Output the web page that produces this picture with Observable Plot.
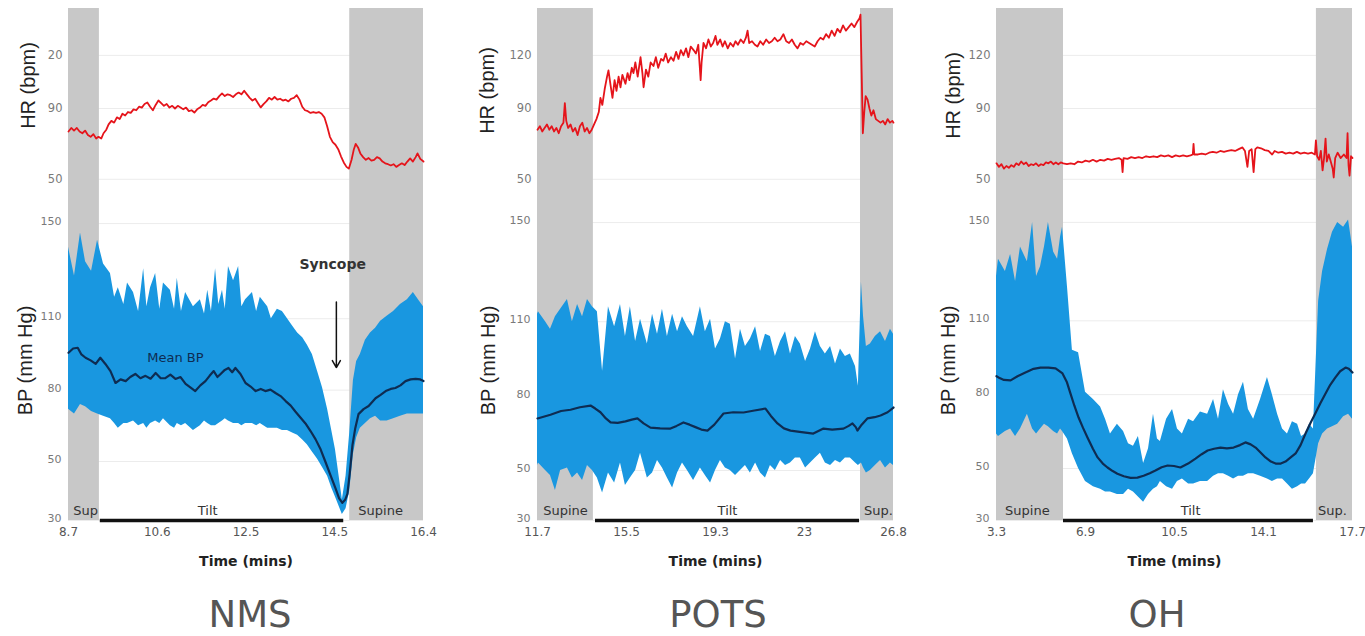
<!DOCTYPE html>
<html>
<head>
<meta charset="utf-8">
<script src="https://cdn.jsdelivr.net/npm/d3@7"></script>
<script src="https://cdn.jsdelivr.net/npm/@observablehq/plot@0.6"></script>
<style>
  html, body { margin: 0; padding: 0; background: #fff; }
  body { width: 1365px; height: 636px; overflow: hidden; position: relative; font-family: "DejaVu Sans", sans-serif; }
  .panel { position: absolute; top: 0; }
  .panel svg { display: block; overflow: visible; }
  .title { position: absolute; top: 596px; font-size: 37px; line-height: 1; color: #555; transform: translateX(-50%); white-space: nowrap; }
</style>
</head>
<body>
<div id="p0" class="panel" style="left:0px"></div>
<div id="p1" class="panel" style="left:469px"></div>
<div id="p2" class="panel" style="left:928px"></div>
<div class="title" style="left:250px">NMS</div>
<div class="title" style="left:718px">POTS</div>
<div class="title" style="left:1157px">OH</div>
<script>
// ---------- shared ticks ----------
const hrTicks = [120, 90, 50];
const nmsHrTickLabels = ["20", "90", "50"];
const hrTickLabels = ["120", "90", "50"];
const bpTicks = [30, 50, 80, 110, 150];

// ---------- NMS ----------
const nmsXTicks = [8.7, 10.625, 12.55, 14.475, 16.4];
const nmsXLabels = ["8.7", "10.6", "12.5", "14.5", "16.4"];
const nmsSupine = [[8.7, 9.37], [14.8, 16.4]];
const nmsTilt = [9.39, 14.67];
const nmsPhases = [["Sup", 9.07], ["Tilt", 11.72], ["Supine", 15.47]];
const nmsHR = [[8.70,77],[8.76,79],[8.82,77.5],[8.88,79],[8.94,77],[9.00,76],[9.06,77.5],[9.12,75],[9.18,74],[9.24,75.5],
[9.30,73],[9.35,74],[9.41,73],[9.46,76],[9.52,78],[9.57,81],[9.63,83],[9.69,82],[9.75,85],[9.81,84],
[9.87,87],[9.93,86],[9.99,88],[10.05,87.5],[10.11,89.5],[10.17,89],[10.23,91],[10.29,90.5],[10.35,92.5],[10.41,93.4],
[10.47,91],[10.53,89],[10.59,92],[10.65,94.5],[10.71,93],[10.77,91.5],[10.83,92.5],[10.89,90.5],[10.95,91.5],[11.01,90],
[11.07,91.5],[11.13,90.6],[11.19,89.5],[11.25,90.5],[11.31,88.5],[11.37,89],[11.43,87.7],[11.49,89.5],[11.55,90.5],[11.61,92],
[11.67,91.5],[11.73,93.5],[11.79,94.5],[11.85,95.6],[11.91,95],[11.97,97],[12.03,98.5],[12.09,97],[12.15,98],[12.21,97.5],
[12.27,96.5],[12.33,98],[12.39,99],[12.45,98],[12.51,100],[12.57,98],[12.63,96],[12.69,94.5],[12.75,95.5],[12.81,93],
[12.87,90.6],[12.93,92.5],[12.99,94],[13.05,96],[13.11,95],[13.17,96.5],[13.23,95],[13.29,95.5],[13.35,94.5],[13.41,95],
[13.47,94],[13.53,95.5],[13.59,96],[13.65,97.5],[13.71,95],[13.77,91],[13.83,89],[13.89,88.5],[13.95,87.5],[14.01,88],
[14.07,87.5],[14.13,88],[14.19,87],[14.25,85],[14.31,80],[14.37,74],[14.43,71],[14.49,69.5],[14.55,67],[14.61,63],
[14.67,59.5],[14.73,57],[14.78,56],[14.84,61],[14.89,67],[14.93,70],[14.98,68],[15.03,64.6],[15.09,62.5],[15.15,61],
[15.21,62],[15.27,60.5],[15.33,61],[15.39,62.5],[15.45,61.8],[15.51,60],[15.57,59],[15.63,58.5],[15.69,57.8],[15.75,58.5],
[15.81,57],[15.87,58],[15.93,59],[15.99,58],[16.05,60],[16.11,61.8],[16.17,60],[16.23,62.5],[16.27,64.6],[16.33,61.5],[16.40,60]];
// [time, systolic envelope, diastolic envelope]
const nmsBP = [[8.70,140,72],[8.83,128,70],[8.96,146,74],[9.07,134,73],[9.20,130,71],[9.33,143,70],[9.46,133,69],[9.61,129,68],
[9.70,119,66],[9.78,123,64],[9.90,116,66],[9.98,125,66],[10.11,121,67],[10.22,113,65],[10.33,131,66],[10.40,115,64],
[10.48,123,66],[10.59,129,67],[10.68,114,66],[10.76,125,68],[10.91,122,65],[11.00,114,64],[11.06,127,66],[11.15,113,65],
[11.24,121,66],[11.41,115,63],[11.56,118,65],[11.65,112,67],[11.72,122,66],[11.80,113,65],[11.89,131,65],[11.96,116,66],
[12.04,122,67],[12.10,114,68],[12.17,132,67],[12.28,126,66],[12.39,132,66],[12.46,115,65],[12.54,118,66],[12.69,121,66],
[12.78,113,65],[12.86,119,66],[13.02,115,64],[13.10,110,64],[13.23,114,64],[13.34,113,63],[13.45,110,63],[13.56,107,62],
[13.67,104,61],[13.78,102,59],[13.88,99,57],[13.99,95,54],[14.10,88,51],[14.21,81,48],[14.32,72,45],[14.41,63,41],
[14.49,55,38],[14.64,37,32],[14.72,45,34],[14.80,62,40],[14.88,84,53],[14.95,92,60],[15.03,95,64],[15.14,101,66],
[15.25,104,68],[15.36,106,69],[15.47,109,67],[15.61,111,67],[15.75,113,68],[15.90,116,69],[16.05,118,70],[16.18,121,70],
[16.29,118,70],[16.40,115,70]];
const nmsMean = [[8.70,95.7],[8.80,97.5],[8.90,97.8],[8.98,95],[9.07,93.6],[9.18,92.5],[9.29,91],[9.39,93.6],[9.50,91],[9.61,88],
[9.72,83],[9.83,84.5],[9.94,83.8],[10.04,85.5],[10.15,86.8],[10.26,85],[10.37,86],[10.48,84.8],[10.59,87.2],[10.70,85],
[10.80,85],[10.91,86.5],[11.02,84.7],[11.13,85.5],[11.24,82.6],[11.35,81],[11.45,79.6],[11.56,82],[11.67,83.8],[11.76,86],
[11.85,88],[11.93,85.5],[12.00,86.8],[12.09,88.5],[12.17,89.3],[12.25,87.5],[12.32,89.3],[12.43,86.8],[12.54,83],[12.65,81.5],
[12.76,79.6],[12.87,80.5],[12.97,79.6],[13.08,80.2],[13.19,78.8],[13.30,77.5],[13.41,75.4],[13.52,73.5],[13.62,71],[13.73,68.5],
[13.84,66],[13.95,62.8],[14.06,59.3],[14.17,55],[14.27,50],[14.38,45.5],[14.49,41],[14.57,37.5],[14.64,36],[14.70,37],
[14.75,39],[14.80,46],[14.86,57],[14.92,64],[14.99,69.9],[15.10,72],[15.21,73.3],[15.36,76.6],[15.47,78],[15.58,79.6],
[15.69,80.5],[15.79,80.9],[15.90,82],[16.01,83.8],[16.12,84.5],[16.23,84.7],[16.33,84.5],[16.40,83.8]];
const nmsSyncopeLabel = [["Syncope", 14.43, 133]];
const nmsSyncopeArrow = [[14.51, 117, 89.5]];
const nmsMeanLabel = [["Mean BP", 11.02, 93.7]];

// ---------- POTS ----------
const potsXTicks = [11.7, 15.475, 19.25, 23.025, 26.8];
const potsXLabels = ["11.7", "15.5", "19.3", "23", "26.8"];
const potsSupine = [[11.7, 14.07], [25.4, 26.8]];
const potsTilt = [14.16, 25.36];
const potsPhases = [["Supine", 12.89], ["Tilt", 19.76], ["Sup.", 26.16]];
const potsHR = [[11.70,78],[11.80,80],[11.90,77],[12.00,79],[12.10,81],[12.20,78],[12.30,80],[12.40,77],[12.50,79],[12.60,76],
[12.70,80],[12.80,82],[12.86,93],[12.92,83],[13.00,79],[13.10,81],[13.20,77],[13.30,79],[13.40,75],[13.50,80],
[13.60,82],[13.70,77],[13.80,79],[13.90,76],[14.00,78],[14.10,81],[14.20,84],[14.30,88],[14.37,96],[14.45,92],
[14.55,101],[14.65,108],[14.71,111.5],[14.80,103],[14.88,96],[14.97,106],[15.05,100],[15.14,108],[15.22,102],[15.30,109],
[15.43,104],[15.52,110],[15.60,106],[15.70,113],[15.77,110],[15.85,116],[15.95,108],[16.07,119],[16.15,110],[16.20,102],
[16.30,112],[16.40,108],[16.50,116],[16.62,114],[16.72,119],[16.82,113],[16.94,118],[17.04,117],[17.14,121],[17.24,116],
[17.36,119],[17.47,117],[17.58,122],[17.68,118],[17.78,123],[17.89,120],[18.00,124],[18.10,119],[18.20,125],[18.32,123],
[18.42,121],[18.52,126],[18.58,114],[18.62,106],[18.66,116],[18.74,127],[18.85,124],[18.95,129],[19.05,125],[19.15,127],
[19.25,131],[19.33,126],[19.45,129],[19.55,125],[19.65,128],[19.77,124],[19.88,127],[20.00,125],[20.10,128],[20.20,126],
[20.32,129],[20.44,127],[20.54,130],[20.61,134],[20.68,127],[20.80,128],[20.92,126],[21.03,125],[21.15,128],[21.27,126],
[21.40,129],[21.52,127],[21.64,128],[21.76,130],[21.88,128],[22.00,129],[22.13,132],[22.25,128],[22.37,127],[22.49,129],
[22.61,126],[22.73,124],[22.85,127],[22.97,126],[23.10,128],[23.22,127],[23.34,126],[23.46,125],[23.58,128],[23.70,130],
[23.82,129],[23.94,132],[24.06,130],[24.18,134],[24.30,131],[24.42,135],[24.54,133],[24.66,137],[24.78,134],[24.90,136],
[25.02,138],[25.14,136],[25.26,139],[25.36,141],[25.40,143],[25.45,110],[25.50,76],[25.56,88],[25.62,97],[25.70,95],
[25.78,90],[25.86,86],[25.95,89],[26.05,84],[26.15,83],[26.25,82],[26.35,83],[26.45,81],[26.55,84],[26.65,82],[26.75,83],[26.80,82]];
const potsBP = [[11.70,113,52],[11.74,114,53],[12.04,110,50],[12.25,107,48],[12.46,112,42],[12.68,115,50],[12.97,119,51],[13.18,110,47],
[13.40,117,49],[13.61,112,46],[13.82,119,52],[14.03,116,50],[14.24,114,47],[14.46,90,41],[14.71,116,49],[14.97,108,45],
[15.22,117,53],[15.43,104,44],[15.64,116,47],[15.86,102,50],[16.07,111,57],[16.36,101,47],[16.58,113,49],[16.79,105,54],
[17.00,115,51],[17.21,104,47],[17.43,113,43],[17.64,106,49],[17.85,112,53],[18.06,108,50],[18.32,104,46],[18.61,116,51],
[18.82,106,48],[19.04,111,45],[19.25,99,50],[19.46,103,54],[19.67,110,51],[19.88,109,50],[20.10,95,48],[20.31,107,50],
[20.52,100,52],[20.73,103,49],[20.95,108,53],[21.16,98,49],[21.37,105,47],[21.58,104,52],[21.79,96,50],[22.01,102,54],
[22.22,106,52],[22.43,97,53],[22.64,104,55],[22.85,101,55],[23.07,94,51],[23.28,99,53],[23.49,106,55],[23.70,100,57],
[23.91,97,53],[24.13,100,52],[24.34,93,54],[24.55,99,53],[24.76,96,55],[24.97,97,55],[25.19,92,53],[25.31,84,52],
[25.44,126,53],[25.53,112,51],[25.65,100,49],[25.82,101,50],[26.03,104,52],[26.25,106,54],[26.46,102,51],[26.67,107,53],[26.80,105,52]];
const potsMean = [[11.70,71],[12.25,72.5],[12.70,74],[13.10,74.5],[13.50,75.5],[13.95,76.2],[14.15,75],[14.37,73.5],[14.60,71],[14.80,69.4],
[15.10,69.2],[15.43,69.8],[15.70,70.5],[15.94,71],[16.20,69],[16.49,67.3],[16.90,67],[17.34,66.9],[17.60,68],[17.89,69.4],
[18.15,68.5],[18.40,67.5],[18.65,66.5],[18.91,66.1],[19.20,68.5],[19.59,73],[20.00,73.5],[20.44,73.4],[20.90,74.2],[21.37,75],
[21.60,72],[21.88,69],[22.15,67],[22.43,66.1],[22.90,65.5],[23.40,64.9],[23.83,66.9],[24.20,66.5],[24.68,66.9],[24.90,68],
[25.06,69],[25.20,67.5],[25.27,66.1],[25.45,68.5],[25.69,71],[26.00,71.5],[26.25,72.2],[26.55,73.5],[26.80,75.4]];

// ---------- OH ----------
const ohXTicks = [3.3, 6.9, 10.5, 14.1, 17.7];
const ohXLabels = ["3.3", "6.9", "10.5", "14.1", "17.7"];
const ohSupine = [[3.3, 6.01], [16.24, 17.7]];
const ohTilt = [6.01, 16.12];
const ohPhases = [["Supine", 4.55], ["Tilt", 11.15], ["Sup.", 16.89]];
const ohHR = [[3.30,59],[3.40,57],[3.50,58.5],[3.60,56],[3.70,57.5],[3.80,56.5],[3.90,58],[4.00,57],[4.10,59],[4.20,58],
[4.30,60],[4.40,58.5],[4.50,59.5],[4.60,57.5],[4.70,58.5],[4.80,58],[4.90,59],[5.00,57.5],[5.10,58.5],[5.20,58],
[5.30,59.5],[5.40,59],[5.50,60],[5.60,58.5],[5.70,59.5],[5.80,58.5],[5.90,59.5],[6.00,59],[6.15,58.5],[6.30,59],
[6.45,58.5],[6.60,60],[6.75,59.5],[6.90,60.5],[7.05,60],[7.20,61],[7.35,60],[7.50,61],[7.65,60.5],[7.80,61.5],
[7.95,61],[8.10,61.5],[8.25,62],[8.36,61],[8.40,54],[8.44,62],[8.60,61.5],[8.75,62.5],[8.90,62],[9.05,62.5],
[9.20,62],[9.35,63],[9.50,62.5],[9.65,63],[9.80,62.5],[9.95,63.5],[10.10,63],[10.25,63.5],[10.40,62.5],[10.55,63.5],
[10.70,63],[10.85,63.5],[11.00,63],[11.15,63.5],[11.24,64],[11.27,70],[11.30,64],[11.45,64],[11.60,64.5],[11.75,64],
[11.90,65],[12.05,65.5],[12.20,65],[12.35,66],[12.50,65.5],[12.65,66],[12.80,66.5],[12.95,66],[13.10,67],[13.25,68],
[13.35,66],[13.45,57],[13.52,66],[13.62,67],[13.70,54],[13.77,67],[13.85,68],[14.00,67.5],[14.15,66.5],[14.30,66],
[14.45,64],[14.55,66],[14.70,65],[14.85,65.5],[15.00,64.5],[15.15,65],[15.30,64.5],[15.45,65.5],[15.60,64.5],[15.75,65],
[15.90,64.5],[16.05,65],[16.18,64],[16.22,72],[16.27,63],[16.35,61],[16.42,66],[16.49,55],[16.55,62],[16.61,73],
[16.66,60],[16.74,64],[16.82,60],[16.90,56],[16.94,51],[17.00,62],[17.10,65],[17.22,62],[17.35,64],[17.46,62],
[17.50,76],[17.54,58],[17.58,52],[17.64,63],[17.70,62]];
const ohBP = [[3.30,128,64],[3.38,135,63],[3.66,130,65],[3.87,137,66],[4.07,126,63],[4.27,140,66],[4.55,134,72],[4.76,150,66],
[4.92,128,64],[5.08,132,66],[5.24,140,68],[5.40,150,67],[5.61,138,65],[5.77,135,64],[5.89,144,66],[5.97,148,65],
[6.17,124,62],[6.37,98,56],[6.62,97,50],[6.90,81,45],[7.22,78,43],[7.51,75,42],[7.71,70,41],[7.91,64,41],
[8.19,68,40],[8.44,65,40],[8.64,60,42],[8.84,59,41],[9.04,63,39],[9.25,52,37],[9.45,58,40],[9.65,72,42],
[9.81,62,43],[9.93,61,45],[10.18,70,43],[10.42,74,42],[10.62,66,45],[10.82,64,46],[11.07,70,44],[11.27,69,44],
[11.55,73,45],[11.84,72,45],[12.08,78,47],[12.28,70,48],[12.48,82,48],[12.69,76,47],[12.89,72,46],[13.09,80,47],
[13.29,85,47],[13.49,74,48],[13.70,70,48],[13.98,78,47],[14.26,87,46],[14.46,80,45],[14.67,72,46],[14.87,66,46],
[15.07,64,44],[15.27,69,42],[15.48,68,43],[15.64,63,44],[15.80,64,44],[15.96,68,46],[16.12,66,48],[16.33,118,60],
[16.49,130,64],[16.69,139,66],[16.89,146,67],[17.10,150,68],[17.34,148,71],[17.54,151,72],[17.70,140,70]];
const ohMean = [[3.30,87.5],[3.38,87],[3.60,86],[3.87,85.8],[4.15,87.5],[4.47,89],[4.80,90.5],[5.08,91],[5.40,91],[5.69,90.7],
[5.97,88.6],[6.15,85],[6.29,80.5],[6.45,75.5],[6.62,70.7],[6.80,66.5],[6.98,62.6],[7.20,58],[7.39,54.5],[7.60,52],
[7.79,50.4],[8.00,49],[8.19,48],[8.45,47],[8.72,46.4],[9.00,46.5],[9.25,47.2],[9.50,48.2],[9.73,49.2],[9.98,50.5],
[10.22,51.2],[10.48,51],[10.74,50.4],[11.05,52],[11.35,54],[11.60,55.8],[11.84,57.3],[12.10,58],[12.36,58.5],[12.62,58.2],
[12.89,58.5],[13.15,59.5],[13.37,60.6],[13.58,59.8],[13.78,58.5],[13.98,56.5],[14.18,54.5],[14.40,52.8],[14.59,52],[14.80,52],
[14.99,52.8],[15.20,54.5],[15.40,56.1],[15.60,59.5],[15.80,64.2],[16.00,68.5],[16.20,72.4],[16.40,76.5],[16.61,80.5],[16.80,84],
[17.01,87],[17.20,89.5],[17.42,91],[17.55,90.5],[17.70,89]];

// ---------- styling / layout ----------
const RED = "#e5141b", BLUE = "#1997e0", NAVY = "#0e2c52", GRAY = "#c8c8c8", GRID = "#ececec";
const HR_DOMAIN = [38, 146.5];

// The reference BP axis is stretched below 50 mmHg (30 sits at the frame bottom);
// "stretch" reproduces that with the scale's own transform option.
const panels = [
  {id: "p0", ml: 68, pw: 355, mr: 15, xDomain: [8.7, 16.4], xTicks: nmsXTicks, xLabels: nmsXLabels,
   hr: nmsHR, bp: nmsBP, mean: nmsMean, supine: nmsSupine, tilt: nmsTilt, phases: nmsPhases,
   hrLabels: nmsHrTickLabels, bpTop: 159.7, stretch: 1.24,
   hrDx: -40, hrDy: -19, bpDx: -43, notes: true},
  {id: "p1", ml: 68, pw: 356, mr: 15, xDomain: [11.7, 26.8], xTicks: potsXTicks, xLabels: potsXLabels,
   hr: potsHR, bp: potsBP, mean: potsMean, supine: potsSupine, tilt: potsTilt, phases: potsPhases,
   hrLabels: hrTickLabels, bpTop: 158.9, stretch: 1.008,
   hrDx: -50, hrDy: -14, bpDx: -49, notes: false},
  {id: "p2", ml: 68, pw: 356, mr: 13, xDomain: [3.3, 17.7], xTicks: ohXTicks, xLabels: ohXLabels,
   hr: ohHR, bp: ohBP, mean: ohMean, supine: ohSupine, tilt: ohTilt, phases: ohPhases,
   hrLabels: hrTickLabels, bpTop: 158.9, stretch: 1.057,
   hrDx: -43, hrDy: -9, bpDx: -48, notes: false}
];

function drawPanel(cfg) {
  const host = document.getElementById(cfg.id);
  const W = cfg.ml + cfg.pw + cfg.mr;
  const hr = cfg.hr.map(([t, v]) => ({t, v}));
  const bp = cfg.bp.map(([t, hi, lo]) => ({t, hi, lo}));
  const mean = cfg.mean.map(([t, v]) => ({t, v}));
  const spans = cfg.supine.map(([a, b]) => ({a, b}));
  const phases = cfg.phases.map(([label, t]) => ({label, t}));
  const hrLab = new Map(hrTicks.map((d, i) => [d, cfg.hrLabels[i]]));
  const xLab = new Map(cfg.xTicks.map((d, i) => [d, cfg.xLabels[i]]));
  const common = {
    width: W, marginLeft: cfg.ml, marginRight: cfg.mr,
    style: {fontFamily: "'DejaVu Sans', sans-serif", fontSize: "12px", background: "transparent", overflow: "visible"}
  };

  const top = Plot.plot({
    ...common, height: 200, marginTop: 8, marginBottom: 0,
    x: {domain: cfg.xDomain, axis: null},
    y: {domain: HR_DOMAIN},
    marks: [
      Plot.ruleY(hrTicks, {stroke: GRID}),
      Plot.rect(spans, {x1: "a", x2: "b", y1: HR_DOMAIN[0], y2: HR_DOMAIN[1], fill: GRAY}),
      Plot.line(hr, {x: "t", y: "v", stroke: RED, strokeWidth: 1.8}),
      Plot.axisY(hrTicks, {tickSize: 0, tickPadding: 6, tickFormat: d => hrLab.get(d), label: null, fill: "#7a7a7a", fontSize: 11.5}),
      Plot.text(["HR (bpm)"], {frameAnchor: "left", textAnchor: "middle", rotate: -90, dx: cfg.hrDx, dy: cfg.hrDy, fontSize: 20, fill: "#222", fontFamily: "'Liberation Sans', sans-serif"})
    ]
  });

  const k = cfg.stretch;
  const stretch = v => (v >= 50 ? v : 50 - (50 - v) * k);
  const marks = [
    Plot.ruleY(bpTicks, {stroke: GRID}),
    Plot.rect(spans, {x1: "a", x2: "b", y1: 30, y2: cfg.bpTop, fill: GRAY}),
    Plot.areaY(bp, {x: "t", y1: "lo", y2: "hi", fill: BLUE}),
    Plot.line(mean, {x: "t", y: "v", stroke: NAVY, strokeWidth: 2.2}),
    Plot.ruleY([30], {x1: cfg.tilt[0], x2: cfg.tilt[1], stroke: "#111", strokeWidth: 3.5}),
    Plot.text(phases, {x: "t", y: 30, text: "label", dy: -10, fontSize: 13, fill: "#333"}),
    Plot.axisY(bpTicks, {tickSize: 0, tickPadding: 7, dy: -2, label: null, fill: "#7a7a7a", fontSize: 11}),
    Plot.axisX(cfg.xTicks, {tickSize: 0, tickPadding: 7, tickFormat: d => xLab.get(d), label: null, fill: "#555", fontSize: 12}),
    Plot.text(["Time (mins)"], {frameAnchor: "bottom", dy: 45, fontWeight: "bold", fontSize: 14, fill: "#222"}),
    Plot.text(["BP (mm Hg)"], {frameAnchor: "left", textAnchor: "middle", rotate: -90, dx: cfg.bpDx, fontSize: 20, fill: "#222", fontFamily: "'Liberation Sans', sans-serif"})
  ];
  if (cfg.notes) {
    marks.push(
      Plot.text(nmsSyncopeLabel, {x: d => d[1], y: d => d[2], text: d => d[0], fontWeight: "bold", fontSize: 14, fill: "#333"}),
      Plot.arrow(nmsSyncopeArrow, {x1: d => d[0], y1: d => d[1], x2: d => d[0], y2: d => d[2], stroke: "#111", strokeWidth: 1.5, headLength: 8}),
      Plot.text(nmsMeanLabel, {x: d => d[1], y: d => d[2], text: d => d[0], fontSize: 13, fill: NAVY})
    );
  }
  const bottom = Plot.plot({
    ...common, height: 380, marginTop: 0, marginBottom: 60,
    x: {domain: cfg.xDomain},
    y: {domain: [stretch(30), cfg.bpTop], transform: stretch},
    marks
  });
  host.append(top, bottom);
}

panels.forEach(drawPanel);
</script>
</body>
</html>
